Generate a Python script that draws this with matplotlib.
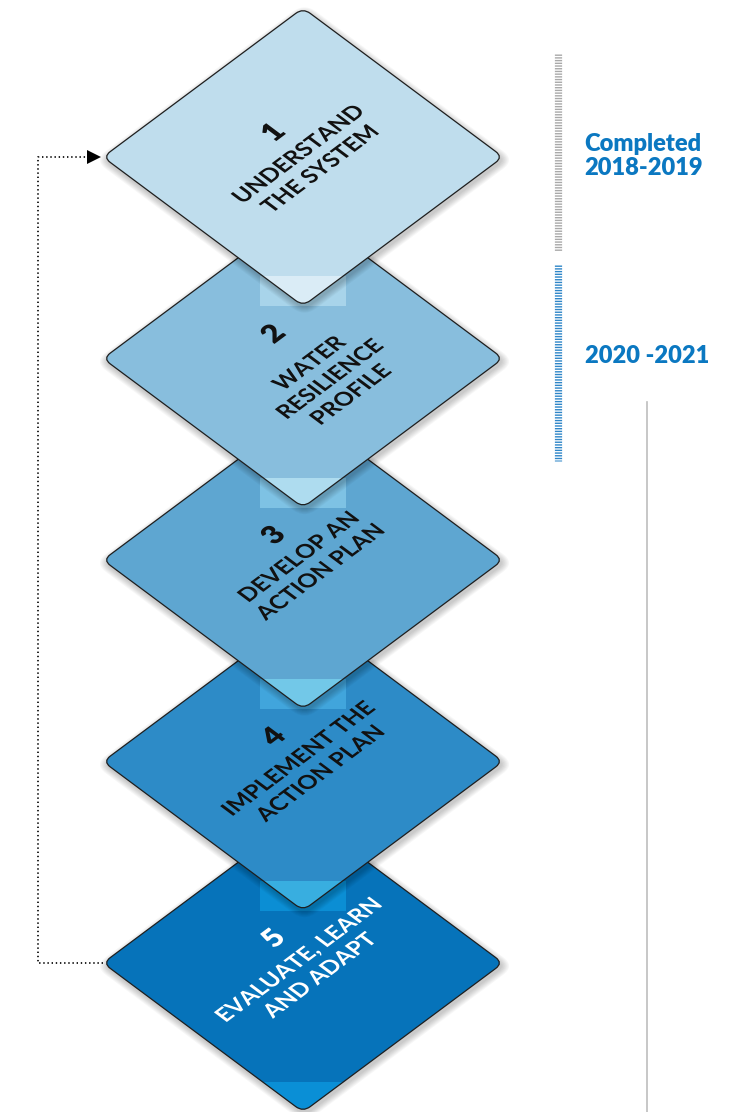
import numpy as np
import matplotlib
matplotlib.use("Agg")
import matplotlib.pyplot as plt
from matplotlib.path import Path
from matplotlib.patches import PathPatch, Rectangle
from matplotlib.textpath import TextPath
from matplotlib.font_manager import FontProperties
from matplotlib.transforms import Affine2D

plt.rcParams['lines.scale_dashes'] = False

# ---------------- data ----------------
step_numbers = ['1', '2', '3', '4', '5']
step_labels = [
    ['UNDERSTAND', 'THE SYSTEM'],
    ['WATER', 'RESILIENCE', 'PROFILE'],
    ['DEVELOP AN', 'ACTION PLAN'],
    ['IMPLEMENT THE', 'ACTION PLAN'],
    ['EVALUATE, LEARN', 'AND ADAPT'],
]
fill_colors = ['#bfdded', '#88bedd', '#5ea6d1', '#2d8bc7', '#0673ba']
rect_upper = ['#daecf6', '#aedcef', '#72c8e8', '#38aee0', '#0a8fd6']
rect_lower = ['#a8d4ea', '#7ec2e4', '#41a5dc', '#0b8ed4', None]
text_colors = ['#111111', '#111111', '#111111', '#111111', '#ffffff']
phase_labels = ['Completed\n2018-2019', '2020 -2021']
phase_bar_colors = ['#a9a9a9', '#2f86c8']
phase_text_color = '#0b78c1'

# ---------------- layout ----------------
W, H = 742, 1112
CX, CY0, DY = 303, 157, 201.5
HW, HH = 200, 149
K = HH / HW
R_CORNER = 9

fig = plt.figure(figsize=(W / 100, H / 100), dpi=100)
ax = fig.add_axes([0, 0, 1, 1])
ax.set_xlim(0, W)
ax.set_ylim(H, 0)
ax.axis('off')


def rounded_poly(pts, r):
    pts = np.asarray(pts, float)
    n = len(pts)
    verts, codes = [], []
    for i in range(n):
        P, V, N = pts[i - 1], pts[i], pts[(i + 1) % n]
        A = V + r * (P - V) / np.linalg.norm(P - V)
        B = V + r * (N - V) / np.linalg.norm(N - V)
        verts.append(A); codes.append(Path.MOVETO if i == 0 else Path.LINETO)
        verts += [V, B]; codes += [Path.CURVE3, Path.CURVE3]
    verts.append(verts[0]); codes.append(Path.CLOSEPOLY)
    return Path(verts, codes)


def diamond_pts(cx, cy, hw, hh):
    return [(cx, cy - hh), (cx + hw, cy), (cx, cy + hh), (cx - hw, cy)]


fp_label = FontProperties(family='Lato', weight='bold')
fp_num = FontProperties(family='Lato', weight='heavy')
LABEL_SIZE = 25.5
NUM_SIZE = 33
LINE_SP = 29.5


def iso_text(s, cx, cy, q_center, size, prop, color, z):
    tp = TextPath((0, 0), s, size=size, prop=prop)
    ext = tp.get_extents()
    xc = (ext.x0 + ext.x1) / 2
    base = q_center - 0.36 * size
    tr = Affine2D().translate(-xc, base).rotate_deg(45).scale(1, -K).translate(cx, cy) + ax.transData
    ax.add_patch(PathPatch(tp, transform=tr, fc=color, ec='none', zorder=z))


z = 1
n = len(step_numbers)
centers = [CY0 + i * DY for i in range(n)]
for i in reversed(range(n)):
    cy = centers[i]
    bottom = cy + HH
    if rect_lower[i] is not None:
        ax.add_patch(Rectangle((CX - 43, bottom - 30), 86, 30, fc=rect_lower[i], ec='none', zorder=z)); z += 1
    for j in range(7):
        sp = rounded_poly(diamond_pts(CX + 1.5, cy + 3, HW + 1 + j * 1.6, HH + 1 + j * 1.2), R_CORNER + j)
        ax.add_patch(PathPatch(sp, fc='black', ec='none', alpha=0.03, zorder=z))
    z += 1
    dp = rounded_poly(diamond_pts(CX, cy, HW, HH), R_CORNER)
    dpatch = PathPatch(dp, fc=fill_colors[i], ec='none', zorder=z); z += 1
    ax.add_patch(dpatch)
    up = Rectangle((CX - 43, bottom - 30), 86, 30 if i < n - 1 else 40, fc=rect_upper[i], ec='none', zorder=z); z += 1
    ax.add_patch(up)
    up.set_clip_path(dpatch)
    ax.add_patch(PathPatch(dp, fc='none', ec='#1e1e1e', lw=0.9, zorder=z)); z += 1

for i in range(n):
    cy = centers[i]
    iso_text(step_numbers[i], CX + 3, cy, 48, NUM_SIZE, fp_num, text_colors[i], 200)
    lines = step_labels[i]
    q0 = 7 - 15 * (len(lines) - 2)
    for j, ln in enumerate(lines):
        iso_text(ln, CX, cy, q0 - j * LINE_SP, LABEL_SIZE, fp_label, text_colors[i], 200)

# dotted feedback loop
ax.plot([CX - HW, 38, 38, 90], [centers[-1], centers[-1], centers[0], centers[0]],
        color='#111111', lw=1.3, linestyle=(0, (1.0, 2.0)), zorder=150)
ax.plot([94], [centers[0]], marker='>', color='black', markersize=10, markeredgewidth=0, zorder=150)

# phase bars on the right
bar_spans = [(54, 251), (265, 461)]
for (y0, y1), c in zip(bar_spans, phase_bar_colors):
    ax.plot([558, 558], [y0, y1], color=c, lw=5.2, dashes=(1.0, 0.95), solid_capstyle='butt',
            dash_capstyle='butt', zorder=100)

ax.text(584, 156, phase_labels[0], color=phase_text_color, fontsize=17, fontweight='heavy',
        family='Lato', ha='left', va='center', linespacing=1.12)
ax.text(585, 356, phase_labels[1], color=phase_text_color, fontsize=17, fontweight='heavy',
        family='Lato', ha='left', va='center')

ax.plot([647, 647], [402, H], color='#bdbdbd', lw=1.2, zorder=100)

fig.savefig('out.png', dpi=100, facecolor='white')
